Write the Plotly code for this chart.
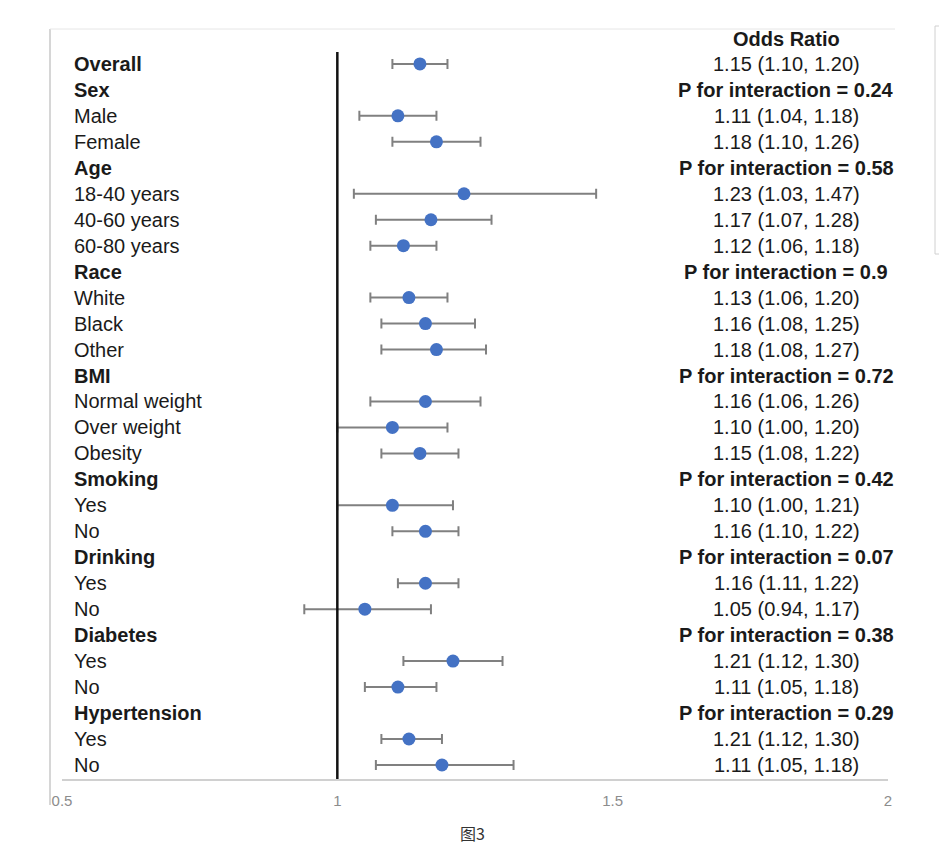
import plotly.graph_objects as go

# ---- data ----
row_labels = ["Overall", "Sex", "Male", "Female", "Age", "18-40 years", "40-60 years",
              "60-80 years", "Race", "White", "Black", "Other", "BMI", "Normal weight",
              "Over weight", "Obesity", "Smoking", "Yes", "No", "Drinking", "Yes", "No",
              "Diabetes", "Yes", "No", "Hypertension", "Yes", "No"]
row_bold = [True, True, False, False, True, False, False, False, True, False, False, False,
            True, False, False, False, True, False, False, True, False, False, True, False,
            False, True, False, False]
right_text = ["1.15 (1.10, 1.20)", "P for interaction = 0.24", "1.11 (1.04, 1.18)",
              "1.18 (1.10, 1.26)", "P for interaction = 0.58", "1.23 (1.03, 1.47)",
              "1.17 (1.07, 1.28)", "1.12 (1.06, 1.18)", "P for interaction = 0.9",
              "1.13 (1.06, 1.20)", "1.16 (1.08, 1.25)", "1.18 (1.08, 1.27)",
              "P for interaction = 0.72", "1.16 (1.06, 1.26)", "1.10 (1.00, 1.20)",
              "1.15 (1.08, 1.22)", "P for interaction = 0.42", "1.10 (1.00, 1.21)",
              "1.16 (1.10, 1.22)", "P for interaction = 0.07", "1.16 (1.11, 1.22)",
              "1.05 (0.94, 1.17)", "P for interaction = 0.38", "1.21 (1.12, 1.30)",
              "1.11 (1.05, 1.18)", "P for interaction = 0.29", "1.21 (1.12, 1.30)",
              "1.11 (1.05, 1.18)"]
right_bold = [False, True, False, False, True, False, False, False, True, False, False, False,
              True, False, False, False, True, False, False, True, False, False, True, False,
              False, True, False, False]
# plotted estimates (None for header rows)
est = [1.15, None, 1.11, 1.18, None, 1.23, 1.17, 1.12, None, 1.13, 1.16, 1.18, None, 1.16,
       1.10, 1.15, None, 1.10, 1.16, None, 1.16, 1.05, None, 1.21, 1.11, None, 1.13, 1.19]
lo = [1.10, None, 1.04, 1.10, None, 1.03, 1.07, 1.06, None, 1.06, 1.08, 1.08, None, 1.06,
      1.00, 1.08, None, 1.00, 1.10, None, 1.11, 0.94, None, 1.12, 1.05, None, 1.08, 1.07]
hi = [1.20, None, 1.18, 1.26, None, 1.47, 1.28, 1.18, None, 1.20, 1.25, 1.27, None, 1.26,
      1.20, 1.22, None, 1.21, 1.22, None, 1.22, 1.17, None, 1.30, 1.18, None, 1.19, 1.32]
x_ticks = [0.5, 1, 1.5, 2]
x_tick_labels = ["0.5", "1", "1.5", "2"]
header_text = "Odds Ratio"
caption = "图3"

# ---- geometry (screen pixels; page body has an 8px margin) ----
OFF = 8
W, H = 947 - 2 * OFF, 860 - 2 * OFF
L, R, T, B = 62 - OFF, 888 - OFF, 52 - OFF, 779 - OFF
def px(x):
    return (x - OFF - L) / (R - L)
def py(y):
    return (B - (y - OFF)) / (B - T)

idx = [i for i, e in enumerate(est) if e is not None]
xs = [est[i] for i in idx]
ys = [i for i in idx]
ep = [hi[i] - est[i] for i in idx]
em = [est[i] - lo[i] for i in idx]

fig = go.Figure()
fig.add_trace(go.Scatter(
    x=xs, y=ys, mode="markers",
    marker=dict(color="#4472C4", size=13, line=dict(width=0)),
    error_x=dict(type="data", symmetric=False, array=ep, arrayminus=em,
                 color="#808080", thickness=2, width=5),
    showlegend=False, hoverinfo="skip"))

font_family = "Liberation Sans, Arial, sans-serif"
ann = []
for i, lab in enumerate(row_labels):
    ann.append(dict(x=px(72), xref="paper", y=i, yref="y", text=(f"<b>{lab}</b>" if row_bold[i] else lab),
                    showarrow=False, xanchor="left", yanchor="middle",
                    font=dict(family=font_family, size=20, color="#1a1a1a")))
for i, t in enumerate(right_text):
    ann.append(dict(x=px(786), xref="paper", y=i, yref="y", text=(f"<b>{t}</b>" if right_bold[i] else t),
                    showarrow=False, xanchor="center", yanchor="middle",
                    font=dict(family=font_family, size=20, color="#1a1a1a")))
ann.append(dict(x=px(786), xref="paper", y=py(39), yref="paper", text=f"<b>{header_text}</b>",
                showarrow=False, xanchor="center", yanchor="middle",
                font=dict(family=font_family, size=20, color="#1a1a1a")))
ann.append(dict(x=px(472), xref="paper", y=py(833), yref="paper", text=caption,
                showarrow=False, xanchor="center", yanchor="middle",
                font=dict(family="Noto Sans CJK SC", size=16, color="#333333")))

shapes = [
    # reference line at OR = 1
    dict(type="line", xref="x", yref="paper", x0=1, x1=1, y0=0, y1=1,
         line=dict(color="#111111", width=2.5), layer="above"),
    # outer chart frame (left and top)
    dict(type="line", xref="paper", yref="paper", x0=px(50), x1=px(50), y0=py(29), y1=py(805),
         line=dict(color="#c8c8c8", width=1.5)),
    dict(type="line", xref="paper", yref="paper", x0=px(50), x1=px(895), y0=py(29), y1=py(29),
         line=dict(color="#e6e6e6", width=1)),
    # small box at right edge
    dict(type="rect", xref="paper", yref="paper", x0=px(935), x1=px(960), y0=py(26), y1=py(254),
         line=dict(color="#d0d0d0", width=1), fillcolor="rgba(0,0,0,0)"),
]

fig.update_layout(
    width=W, height=H,
    margin=dict(l=L, r=W - R, t=T, b=H - B, pad=0),
    paper_bgcolor="white", plot_bgcolor="white",
    annotations=ann, shapes=shapes,
    xaxis=dict(range=[0.5, 2], tickvals=x_ticks, ticktext=x_tick_labels,
               showgrid=False, zeroline=False, showline=True, linecolor="#d0d0d0", linewidth=1.5,
               ticks="", ticklabelstandoff=7,
               tickfont=dict(family="Liberation Sans, Arial, sans-serif", size=15, color="#8c8c8c")),
    yaxis=dict(range=[27.54, -0.46], showgrid=False, zeroline=False, showline=False,
               showticklabels=False, ticks=""),
)

fig.write_html("out.html")
